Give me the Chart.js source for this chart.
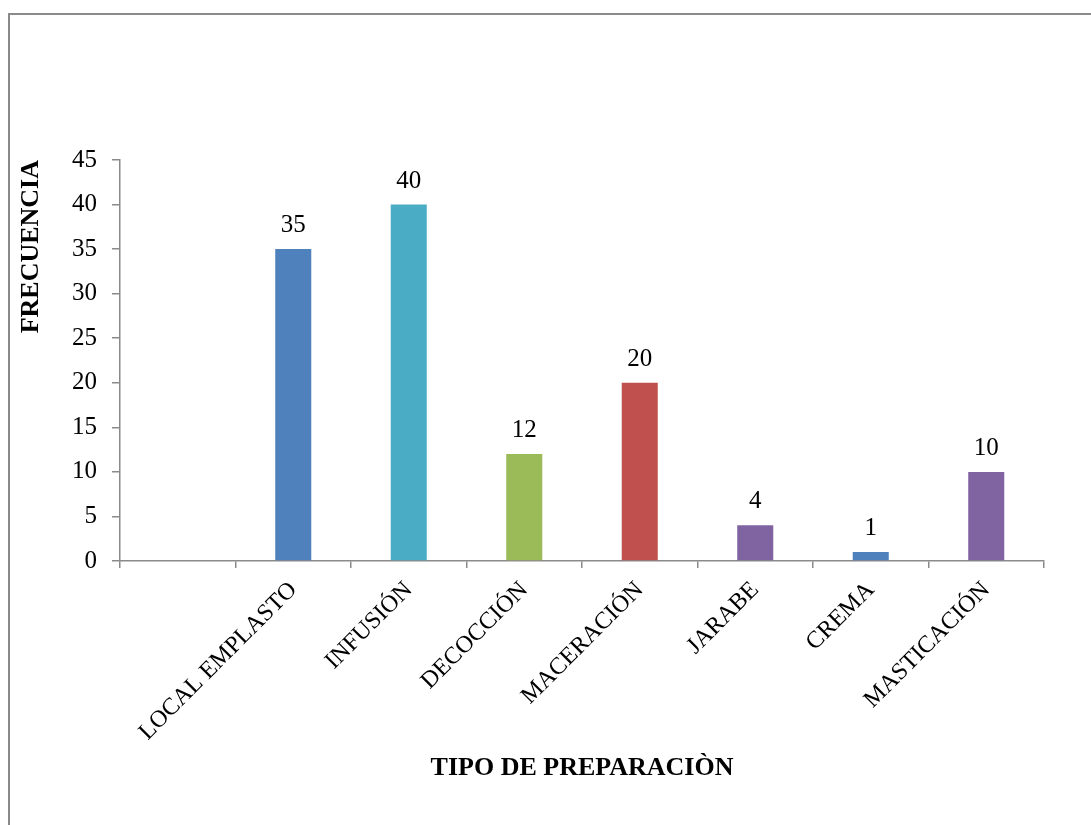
<!DOCTYPE html>
<html>
<head>
<meta charset="utf-8">
<script src="https://cdn.jsdelivr.net/npm/chart.js@4"></script>
<style>
  html, body { margin: 0; padding: 0; background: #fff; overflow: hidden; }
  #wrap { position: relative; width: 1091px; height: 825px; }
  #frame {
    position: absolute; left: 8px; top: 13px; width: 1200px; height: 900px;
    border-left: 2px solid #8a8a8a; border-top: 2px solid #8a8a8a;
  }
  #myChart { position: absolute; left: 0; top: 0; }
</style>
</head>
<body>
<div id="wrap">
  <div id="frame"></div>
  <canvas id="myChart" width="1091" height="825"></canvas>
</div>
<script>
// tipos de preparación (la primera categoría queda vacía)
const categorias = ['', 'LOCAL EMPLASTO', 'INFUSIÓN', 'DECOCCIÓN', 'MACERACIÓN', 'JARABE', 'CREMA', 'MASTICACIÓN'];
const frecuencia = [null, 35, 40, 12, 20, 4, 1, 10];
const colores = ['#4F81BD', '#4F81BD', '#4BACC6', '#9BBB59', '#C0504D', '#8064A2', '#4F81BD', '#8064A2'];
const ticksY = [0, 5, 10, 15, 20, 25, 30, 35, 40, 45];

const serif = '"Liberation Serif", "Times New Roman", serif';
const gris = '#8a8a8a';

// numero encima de cada barra
const valoresArriba = {
    id: 'valoresArriba',
    afterDatasetsDraw(chart) {
        const ctx = chart.ctx;
        const meta = chart.getDatasetMeta(0);
        ctx.save();
        ctx.font = '25px ' + serif;
        ctx.fillStyle = '#000';
        ctx.textAlign = 'center';
        ctx.textBaseline = 'alphabetic';
        meta.data.forEach(function(bar, i) {
            const v = chart.data.datasets[0].data[i];
            if (v === null) return;
            ctx.fillText(String(v), bar.x, bar.y - 17);
        });
        ctx.restore();
    }
};

let ctx = document.getElementById('myChart').getContext('2d');
var myChart = new Chart(ctx, {
    type: 'bar',
    data: {
        labels: categorias,
        datasets: [{
            data: frecuencia,
            backgroundColor: colores,
            borderWidth: 0,
            categoryPercentage: 1,
            barPercentage: 0.312
        }]
    },
    options: {
        responsive: false,
        animation: false,
        layout: { padding: { top: 160, right: 47, bottom: 0, left: 0 } },
        plugins: {
            legend: { display: false },
            tooltip: { enabled: false }
        },
        scales: {
            x: {
                afterFit: function(s) { s.height = 264; },
                grid: { drawOnChartArea: false, drawTicks: true, tickLength: 7, color: gris, lineWidth: 1.5 },
                border: { color: gris, width: 1.5 },
                ticks: {
                    minRotation: 45, maxRotation: 45, autoSkip: false,
                    padding: 8, color: '#000',
                    font: { family: serif, size: 24 }
                },
                title: {
                    display: true, text: 'TIPO DE PREPARACIÒN', color: '#000',
                    font: { family: serif, size: 26, weight: 'bold' },
                    padding: { top: 0, bottom: 41 }
                }
            },
            y: {
                min: 0, max: 45,
                afterFit: function(s) { s.width = 120; },
                afterBuildTicks: function(s) { s.ticks = ticksY.map(function(v) { return { value: v }; }); },
                grid: { drawOnChartArea: false, drawTicks: true, tickLength: 8, color: gris, lineWidth: 1.5 },
                border: { color: gris, width: 1.5 },
                ticks: {
                    padding: 15, color: '#000',
                    font: { family: serif, size: 25 }
                },
                title: {
                    display: true, text: 'FRECUENCIA', color: '#000', align: 'end',
                    font: { family: serif, size: 26, weight: 'bold' },
                    padding: { top: 16, bottom: 0 }
                }
            }
        }
    },
    plugins: [valoresArriba]
});
</script>
</body>
</html>
